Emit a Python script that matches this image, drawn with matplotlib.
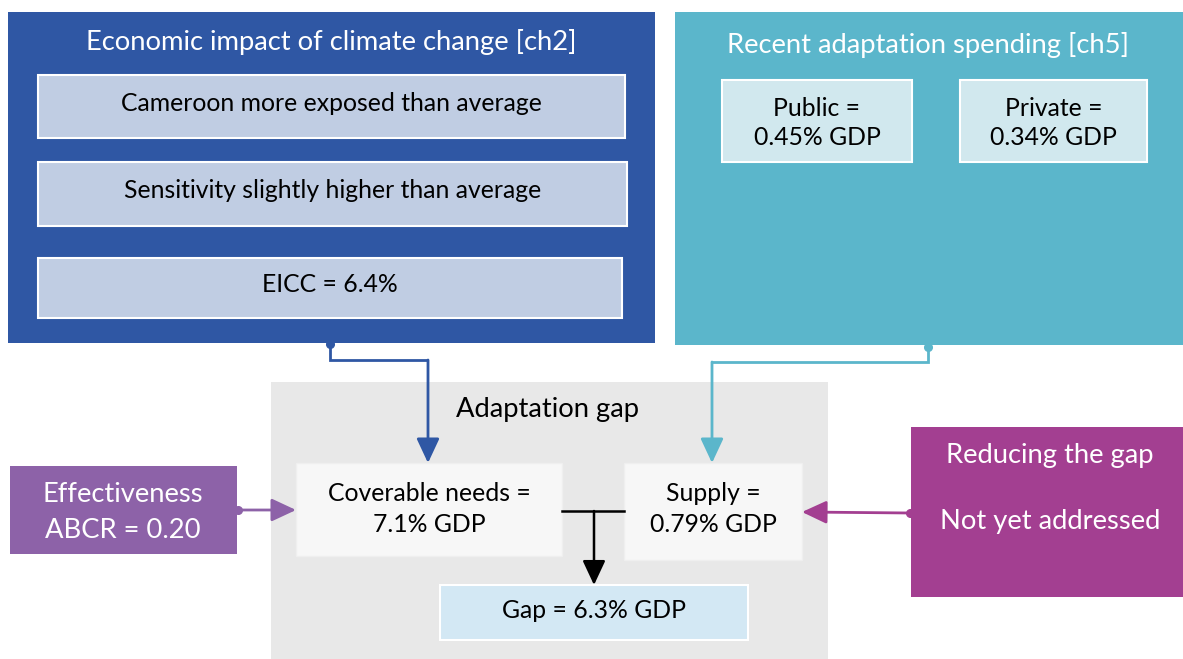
import matplotlib
matplotlib.use("Agg")
import matplotlib.pyplot as plt
from matplotlib.patches import Rectangle, FancyArrowPatch

plt.rcParams['font.family'] = ['Lato', 'DejaVu Sans']

# ---- data / texts ----
impact_title = "Economic impact of climate change [ch2]"
impact_items = ["Cameroon more exposed than average",
                "Sensitivity slightly higher than average",
                "EICC = 6.4%"]
spend_title = "Recent adaptation spending [ch5]"
spend_labels = ["Public", "Private"]
spend_values = [0.45, 0.34]
gap_title = "Adaptation gap"
needs_value = 7.1
supply_value = 0.79
gap_value = 6.3
abcr_value = 0.20
reduce_title = "Reducing the gap"
reduce_text = "Not yet addressed"

# ---- colours ----
BLUE = "#2F57A4"
BLUE_IN = "#C0CDE3"
TEAL = "#5BB6CB"
TEAL_IN = "#D1E8EE"
GREY = "#E8E8E8"
WHITEBOX = "#F7F7F7"
GAPBOX = "#D3E8F4"
PURPLE = "#8D62A8"
MAGENTA = "#A33F91"

TITLE_FS = 19.7
BODY_FS = 17.8

W, H = 1183, 659
fig = plt.figure(figsize=(W / 100, H / 100), dpi=100)
ax = fig.add_axes([0, 0, 1, 1])
ax.set_xlim(0, W)
ax.set_ylim(H, 0)
ax.axis("off")


def box(x0, y0, x1, y1, fc, ec="none", lw=0, z=1):
    ax.add_patch(Rectangle((x0, y0), x1 - x0, y1 - y0, facecolor=fc,
                           edgecolor=ec, linewidth=lw, zorder=z))


def txt(x, y, s, size, color="black", z=5, ls=1.2):
    ax.text(x, y, s, fontsize=size, color=color, ha="center", va="center",
            zorder=z, linespacing=ls)


# Economic impact block
box(8, 12, 655, 343, BLUE)
txt(331, 42, impact_title, TITLE_FS, "white")
inner = [(38, 75, 625, 138), (38, 162, 627, 226), (38, 258, 622, 318)]
for (x0, y0, x1, y1), s in zip(inner, impact_items):
    box(x0, y0, x1, y1, BLUE_IN, "white", 1.5, 2)
    txt((x0 + x1) / 2, (y0 + y1) / 2 - 3, s, BODY_FS)

# Spending block
box(675, 12, 1183, 345, TEAL)
txt(928, 45, spend_title, TITLE_FS, "white")
sboxes = [(722, 80, 912, 162), (960, 80, 1147, 162)]
for (x0, y0, x1, y1), lab, v in zip(sboxes, spend_labels, spend_values):
    box(x0, y0, x1, y1, TEAL_IN, "white", 1.5, 2)
    txt((x0 + x1) / 2, (y0 + y1) / 2 + 2, f"{lab} =\n{v:.2f}% GDP", BODY_FS,
        ls=1.32)

# Adaptation gap block
box(271, 382, 828, 659, GREY)
txt(548, 410, gap_title, TITLE_FS)
box(296, 463, 562, 556, WHITEBOX, "#EFEFEF", 1, 2)
txt(429, 509, f"Coverable needs =\n{needs_value:.1f}% GDP", BODY_FS, ls=1.38)
box(624, 463, 802, 560, WHITEBOX, "#EFEFEF", 1, 2)
txt(713, 509, f"Supply =\n{supply_value:.2f}% GDP", BODY_FS, ls=1.38)
box(440, 585, 748, 640, GAPBOX, "white", 1.5, 2)
txt(594, 610, f"Gap = {gap_value:.1f}% GDP", BODY_FS)

# Effectiveness
box(10, 466, 237, 554, PURPLE)
txt(123, 512, f"Effectiveness\nABCR = {abcr_value:.2f}", TITLE_FS, "white",
    ls=1.55)

# Reducing the gap
box(911, 427, 1183, 597, MAGENTA)
txt(1050, 455, reduce_title, TITLE_FS, "white")
txt(1050, 522, reduce_text, TITLE_FS, "white")

HEAD = "-|>,head_length=0.75,head_width=0.35"


def arrow(points, color, dot=True, lw=2):
    xs = [p[0] for p in points]
    ys = [p[1] for p in points]
    ax.plot(xs[:-1], ys[:-1], color=color, lw=lw, zorder=3,
            solid_joinstyle="miter", solid_capstyle="butt")
    ax.add_patch(FancyArrowPatch(points[-2], points[-1], arrowstyle=HEAD,
                                 mutation_scale=20, color=color, lw=lw,
                                 shrinkA=0, shrinkB=0, zorder=3))
    if dot:
        ax.plot([xs[0]], [ys[0]], "o", color=color, ms=5.5, zorder=4)


arrow([(330, 344), (330, 360), (428, 360), (428, 463)], BLUE)
arrow([(928, 347), (928, 362), (712, 362), (712, 463)], TEAL)
arrow([(238, 510), (296, 510)], PURPLE)
arrow([(910, 513), (802, 512)], MAGENTA)

# Black join
ax.plot([562, 624], [511, 511], color="black", lw=1.8, zorder=3)
arrow([(594, 511), (594, 585)], "black", dot=False, lw=1.8)

fig.savefig("out.png", dpi=100)
